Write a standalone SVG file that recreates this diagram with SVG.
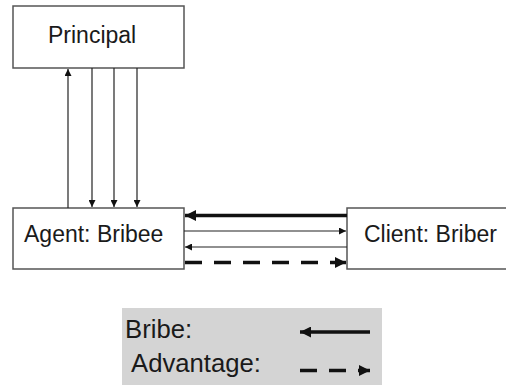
<svg xmlns="http://www.w3.org/2000/svg" width="506" height="385" viewBox="0 0 506 385">
  <defs>
    <style>
      .box { fill: #ffffff; stroke: #555555; stroke-width: 1.5; }
      .lbl { font-family: "Liberation Sans", Arial, sans-serif; font-size: 23px; fill: #1a1a1a; }
      .legend-lbl { font-family: "Liberation Sans", Arial, sans-serif; font-size: 25.7px; fill: #1a1a1a; }
      .thin { stroke: #222222; stroke-width: 1.2; fill: none; }
      .thick { stroke: #111111; stroke-width: 3.5; fill: none; }
      .dash { stroke: #111111; stroke-width: 3.5; fill: none; stroke-dasharray: 17 12; }
    </style>
    <marker id="headThin" viewBox="0 0 10 10" refX="10" refY="5" markerWidth="8" markerHeight="7" markerUnits="userSpaceOnUse" orient="auto">
      <path d="M0,0 L10,5 L0,10 Z" fill="#111111"/>
    </marker>
    <marker id="headThick" viewBox="0 0 10 10" refX="10" refY="5" markerWidth="13" markerHeight="11" markerUnits="userSpaceOnUse" orient="auto">
      <path d="M0,0 L10,5 L0,10 Z" fill="#111111"/>
    </marker>
  </defs>

  <rect width="506" height="385" fill="#ffffff"/>

  <g id="principal">
    <rect class="box" x="13" y="6" width="171" height="62"/>
    <text class="lbl" x="48" y="43" font-size="24">Principal</text>
  </g>

  <g id="agent">
    <rect class="box" x="13" y="208" width="171" height="61"/>
    <text class="lbl" x="24" y="242">Agent: Bribee</text>
  </g>

  <g id="client">
    <rect class="box" x="347" y="208" width="164" height="61"/>
    <text class="lbl" x="364" y="242">Client: Briber</text>
  </g>

  <g id="connectors">
    <!-- agent to principal -->
    <line class="thin" x1="68" y1="208" x2="68" y2="69" marker-end="url(#headThin)"/>
    <!-- principal to agent -->
    <line class="thin" x1="92" y1="68" x2="92" y2="207" marker-end="url(#headThin)"/>
    <line class="thin" x1="114" y1="68" x2="114" y2="207" marker-end="url(#headThin)"/>
    <line class="thin" x1="137" y1="68" x2="137" y2="207" marker-end="url(#headThin)"/>
    <!-- client and agent -->
    <line class="thick" x1="347" y1="215.5" x2="185" y2="215.5" marker-end="url(#headThick)"/>
    <line class="thin" x1="184" y1="231" x2="346" y2="231" marker-end="url(#headThin)"/>
    <line class="thin" x1="347" y1="247" x2="185" y2="247" marker-end="url(#headThin)"/>
    <line class="dash" x1="185" y1="262.5" x2="346" y2="262.5" marker-end="url(#headThick)"/>
  </g>

  <g id="legend">
    <rect x="122" y="308" width="260" height="80" fill="#d4d4d4"/>
    <text class="legend-lbl" x="125" y="338">Bribe:</text>
    <text class="legend-lbl" x="131" y="372">Advantage:</text>
    <line class="thick" x1="370" y1="332" x2="300" y2="332" marker-end="url(#headThick)"/>
    <line class="dash" x1="300" y1="370.5" x2="370" y2="370.5" stroke-dasharray="16 12 16 13" marker-end="url(#headThick)"/>
  </g>
</svg>
